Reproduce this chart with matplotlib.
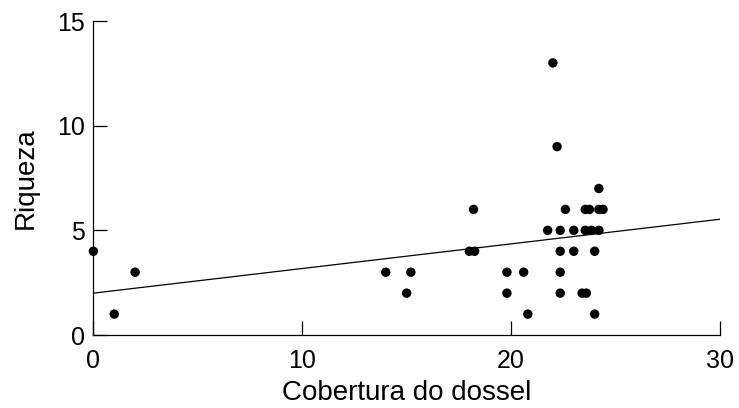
import numpy as np
import matplotlib
matplotlib.use("Agg")
import matplotlib.pyplot as plt

plt.rcParams["font.family"] = ["Liberation Sans", "DejaVu Sans"]

# canopy cover (x) and richness (y)
cobertura = [0.0, 1.0, 2.0,
             14.0, 15.2, 15.0,
             18.0, 18.25, 18.2,
             19.8, 19.8, 20.6, 20.8,
             21.75, 22.0, 22.2,
             22.35, 22.35, 22.35, 22.35,
             22.6,
             23.0, 23.0,
             23.4, 23.6,
             23.55, 23.75, 24.2, 24.4,
             23.55, 23.85, 24.2,
             24.0, 24.0, 24.2]
riqueza = [4, 1, 3,
           3, 3, 2,
           4, 4, 6,
           3, 2, 3, 1,
           5, 13, 9,
           5, 4, 3, 2,
           6,
           5, 4,
           2, 2,
           6, 6, 6, 6,
           5, 5, 5,
           4, 1, 7]

# fitted line
intercept = 2.0
slope = 0.1177
x_fit = np.array([0, 30])

xticks = [0, 10, 20, 30]
yticks = [0, 5, 10, 15]

fig = plt.figure(figsize=(7.39, 4.08), dpi=100)
ax = fig.add_axes([0.1263, 0.1789, 0.9743 - 0.1263, 0.9485 - 0.1789])

ax.plot(x_fit, intercept + slope * x_fit, color="black", lw=0.9)
ax.scatter(cobertura, riqueza, s=46, color="black", edgecolors="none",
           clip_on=False, zorder=3)

ax.set_xlim(0, 30)
ax.set_ylim(0, 15)
ax.set_xticks(xticks)
ax.set_yticks(yticks)
ax.spines["top"].set_visible(False)
ax.spines["right"].set_visible(False)
for s in ("left", "bottom"):
    ax.spines[s].set_linewidth(0.9)
ax.tick_params(direction="in", length=10, width=0.9, labelsize=18)
ax.tick_params(axis="x", pad=10)
ax.tick_params(axis="y", pad=6)

ax.set_xlabel("Cobertura do dossel", fontsize=20, labelpad=5)
ax.set_ylabel("Riqueza", fontsize=20, labelpad=13)

fig.savefig("out.png", dpi=100)
